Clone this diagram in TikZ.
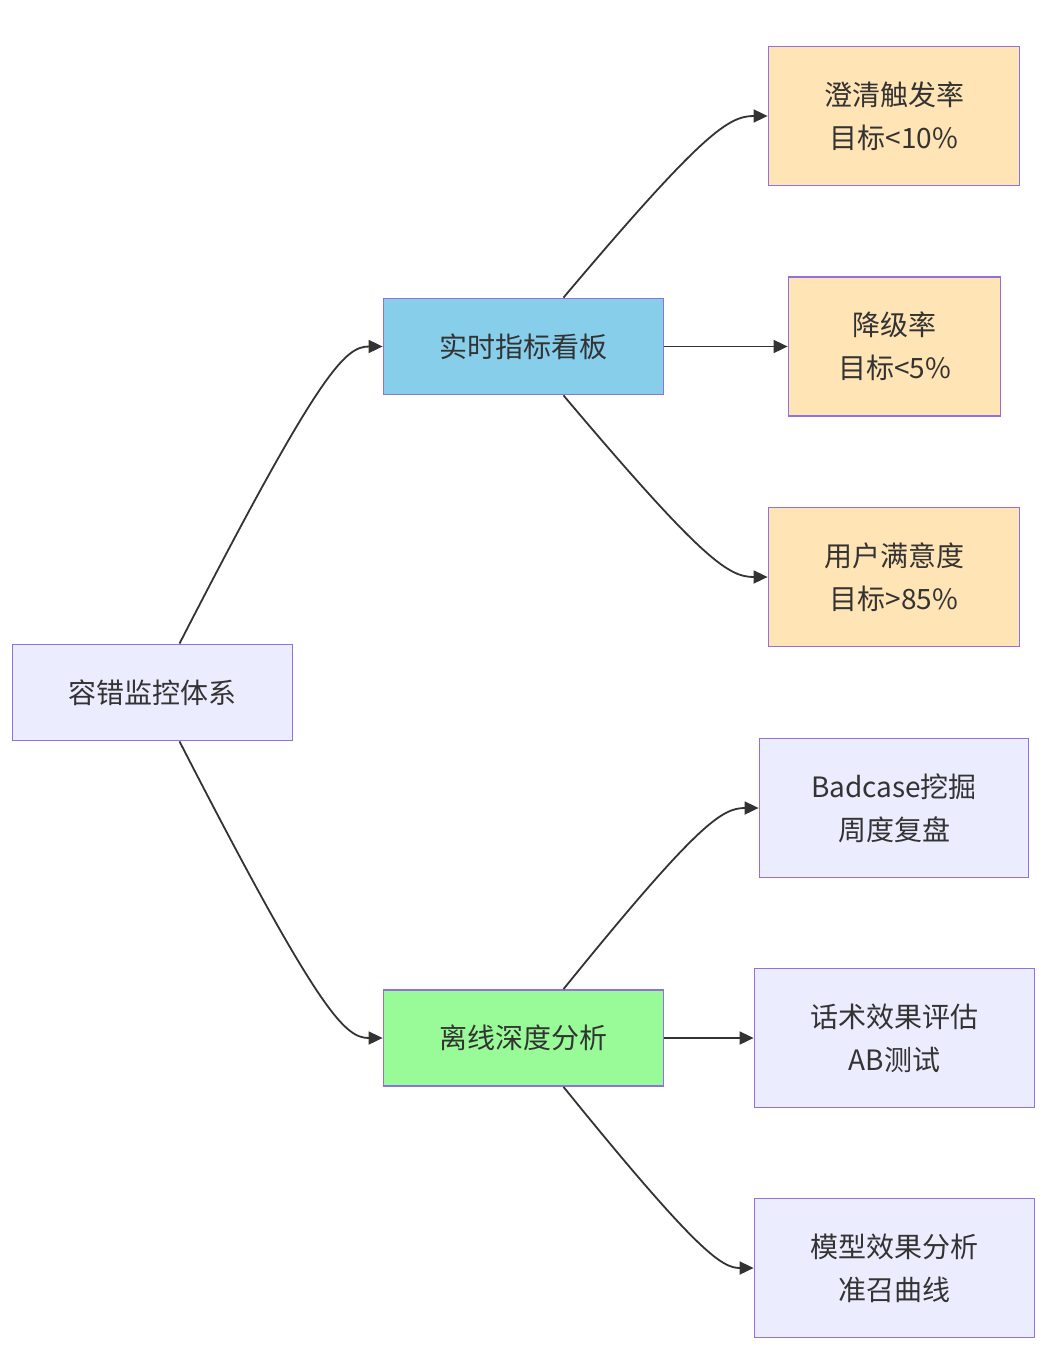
\documentclass[tikz,border=0pt]{standalone}
\usepackage{fontspec}
\setmainfont{Noto Sans CJK SC}
\usepackage{tikz}
\usetikzlibrary{arrows.meta,positioning}
\definecolor{mmline}{HTML}{9370DB}
\definecolor{mmtext}{HTML}{333333}
\definecolor{mmroot}{HTML}{ECECFF}
\definecolor{mmblue}{HTML}{87CEEB}
\definecolor{mmgreen}{HTML}{98FB98}
\definecolor{mmorange}{HTML}{FFE4B5}

\begin{document}
\begin{tikzpicture}[x=1pt,y=-1pt,
  >={Triangle[length=14pt,width=13pt]},
  box/.style={draw=mmline, line width=1.8pt, fill=mmroot, text=mmtext,
              align=center, inner sep=0pt,
              font=\fontsize{28}{43}\selectfont},
  link/.style={->, draw=mmtext, line width=1.8pt}]
  \useasboundingbox (0,0) rectangle (1064,1370);

  % root and second level
  \node[box, minimum width=280pt, minimum height=96pt] (root) at (152.5,692.5) {容错监控体系};
  \node[box, fill=mmblue, minimum width=280pt, minimum height=96pt] (board) at (523.5,346.5) {实时指标看板};
  \node[box, fill=mmgreen, minimum width=280pt, minimum height=96pt] (offline) at (523.5,1038) {离线深度分析};

  % metrics
  \node[box, fill=mmorange, minimum width=251pt, minimum height=139pt] (clarify) at (894,116) {澄清触发率\\目标<10\%};
  \node[box, fill=mmorange, minimum width=212pt, minimum height=139pt] (degrade) at (894.5,346.5) {降级率\\目标<5\%};
  \node[box, fill=mmorange, minimum width=251pt, minimum height=139pt] (satisfy) at (894,577) {用户满意度\\目标>85\%};

  % offline tasks
  \node[box, minimum width=269pt, minimum height=139pt] (badcase) at (894,808) {Badcase挖掘\\周度复盘};
  \node[box, minimum width=280pt, minimum height=139pt] (abtest) at (894.5,1038) {话术效果评估\\AB测试};
  \node[box, minimum width=280pt, minimum height=139pt] (model) at (894.5,1268) {模型效果分析\\准召曲线};

  \draw[link] ([xshift=27pt]root.north) .. controls (320,370) and (345,346.5) .. (board.west);
  \draw[link] ([xshift=27pt]root.south) .. controls (320,1015) and (345,1038) .. (offline.west);

  \draw[link] ([xshift=40pt]board.north) .. controls (704,131) and (729,116) .. (clarify.west);
  \draw[link] (board.east) -- (degrade.west);
  \draw[link] ([xshift=40pt]board.south) .. controls (704,562) and (729,577) .. (satisfy.west);

  \draw[link] ([xshift=40pt]offline.north) .. controls (698,823) and (722,808) .. (badcase.west);
  \draw[link] (offline.east) -- (abtest.west);
  \draw[link] ([xshift=40pt]offline.south) .. controls (698,1253) and (722,1268) .. (model.west);
\end{tikzpicture}
\end{document}
